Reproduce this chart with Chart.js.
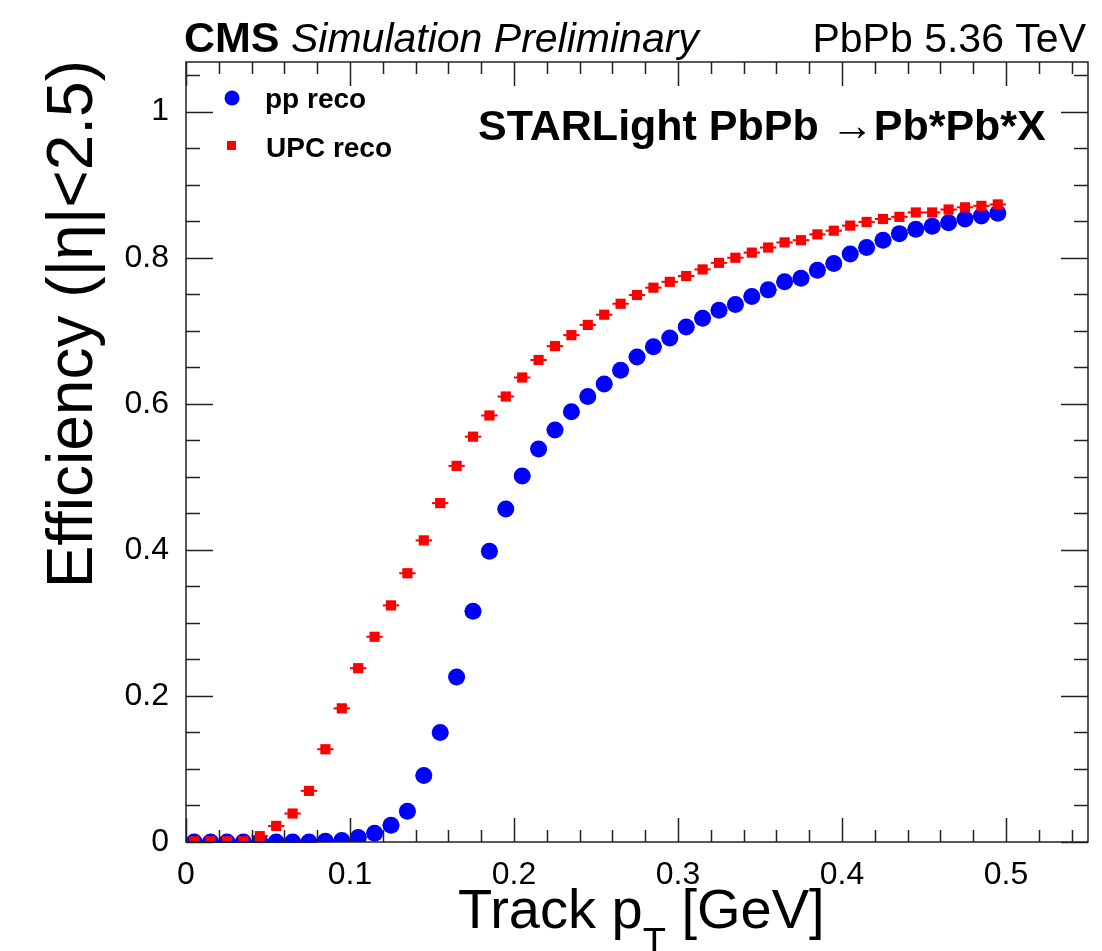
<!DOCTYPE html>
<html>
<head>
<meta charset="utf-8">
<title>Track efficiency vs pT</title>
<script src="https://cdn.jsdelivr.net/npm/chart.js@4.4.1/dist/chart.umd.min.js"></script>
<style>
  html, body { margin: 0; padding: 0; background: #fff; }
  #wrap { width: 1102px; height: 951px; }
</style>
</head>
<body>
<div id="wrap"><canvas id="effChart" width="1102" height="951"></canvas></div>
<script>
// pT bin centres [GeV] (10 MeV bins)
const ptBins = [
    0.005, 0.015, 0.025, 0.035, 0.045, 0.055, 0.065, 0.075, 0.085, 0.095,
    0.105, 0.115, 0.125, 0.135, 0.145, 0.155, 0.165, 0.175, 0.185, 0.195,
    0.205, 0.215, 0.225, 0.235, 0.245, 0.255, 0.265, 0.275, 0.285, 0.295,
    0.305, 0.315, 0.325, 0.335, 0.345, 0.355, 0.365, 0.375, 0.385, 0.395,
    0.405, 0.415, 0.425, 0.435, 0.445, 0.455, 0.465, 0.475, 0.485, 0.495
];
const ptHalfWidth = 0.005;

// efficiency with the pp reconstruction
const ppReco = [
    0.000, 0.000, 0.000, 0.000, 0.000, 0.000, 0.000, 0.000, 0.001, 0.002,
    0.006, 0.012, 0.023, 0.042, 0.091, 0.150, 0.226, 0.316, 0.398, 0.456,
    0.501, 0.538, 0.564, 0.589, 0.610, 0.627, 0.646, 0.664, 0.678, 0.690,
    0.705, 0.717, 0.728, 0.736, 0.747, 0.756, 0.767, 0.772, 0.783, 0.792,
    0.805, 0.814, 0.824, 0.833, 0.839, 0.843, 0.848, 0.853, 0.857, 0.861
];

// efficiency with the UPC reconstruction
const upcReco = [
    0.001, 0.001, 0.001, 0.001, 0.008, 0.022, 0.039, 0.070, 0.127, 0.183,
    0.238, 0.281, 0.324, 0.368, 0.413, 0.464, 0.515, 0.555, 0.584, 0.610,
    0.636, 0.660, 0.679, 0.694, 0.708, 0.722, 0.737, 0.749, 0.759, 0.767,
    0.775, 0.784, 0.793, 0.800, 0.807, 0.814, 0.821, 0.824, 0.832, 0.837,
    0.844, 0.849, 0.853, 0.856, 0.862, 0.862, 0.866, 0.869, 0.871, 0.873
];

const FONT = "'Liberation Sans', Arial, Helvetica, sans-serif";
const BLUE = '#0000ff';
const RED = '#ff0000';

function toPoints(vals) {
    return ptBins.map((x, i) => ({ x: x, y: vals[i] }));
}

// horizontal error bars (bin width) under the markers
const errorBars = {
    id: 'errorBars',
    beforeDatasetsDraw(chart) {
        const { ctx, scales: { x, y } } = chart;
        ctx.save();
        ctx.lineWidth = 2;
        chart.data.datasets.forEach(ds => {
            ctx.strokeStyle = ds.borderColor;
            ds.data.forEach(p => {
                const py = y.getPixelForValue(p.y);
                ctx.beginPath();
                ctx.moveTo(x.getPixelForValue(p.x - ptHalfWidth), py);
                ctx.lineTo(x.getPixelForValue(p.x + ptHalfWidth), py);
                ctx.stroke();
            });
        });
        ctx.restore();
    }
};

// ROOT style frame with inward ticks on all four sides
const rootFrame = {
    id: 'rootFrame',
    afterDraw(chart) {
        const { ctx, chartArea: a, scales: { x, y } } = chart;
        ctx.save();
        ctx.strokeStyle = '#222';
        ctx.lineWidth = 1.5;
        ctx.strokeRect(a.left, a.top, a.right - a.left, a.bottom - a.top);

        ctx.beginPath();
        for (let i = 0; i * 0.02 <= x.max + 1e-9; i++) {
            const px = Math.round(x.getPixelForValue(i * 0.02)) + 0.5;
            const len = i % 5 === 0 ? 24 : 12;
            ctx.moveTo(px, a.bottom); ctx.lineTo(px, a.bottom - len);
            ctx.moveTo(px, a.top); ctx.lineTo(px, a.top + len);
        }
        for (let i = 0; i * 0.05 <= y.max + 1e-9; i++) {
            const py = Math.round(y.getPixelForValue(i * 0.05)) + 0.5;
            const len = i % 4 === 0 ? 27 : 14;
            ctx.moveTo(a.left, py); ctx.lineTo(a.left + len, py);
            ctx.moveTo(a.right, py); ctx.lineTo(a.right - len, py);
        }
        ctx.stroke();
        ctx.restore();
    }
};

// header, legend, process label and axis titles
const labels = {
    id: 'labels',
    afterDraw(chart) {
        const { ctx } = chart;
        const ds = chart.data.datasets;
        ctx.save();
        ctx.fillStyle = '#000';
        ctx.textBaseline = 'alphabetic';

        ctx.textAlign = 'left';
        ctx.font = 'bold 43px ' + FONT;
        ctx.fillText('CMS', 184, 52);
        ctx.font = 'italic 41px ' + FONT;
        ctx.fillText('Simulation Preliminary', 291, 52);
        ctx.textAlign = 'right';
        ctx.font = '41px ' + FONT;
        ctx.fillText('PbPb 5.36 TeV', 1086, 52);

        // legend
        ctx.textAlign = 'left';
        ctx.font = 'bold 28px ' + FONT;
        ctx.fillStyle = ds[1].backgroundColor;
        ctx.beginPath();
        ctx.arc(232, 98, 7.5, 0, Math.PI * 2);
        ctx.fill();
        ctx.fillStyle = ds[0].backgroundColor;
        ctx.fillRect(227, 141, 9, 9);
        ctx.fillStyle = '#000';
        ctx.fillText(ds[1].label, 265, 108);
        ctx.fillText(ds[0].label, 266, 157);

        ctx.font = 'bold 43px ' + FONT;
        ctx.fillText('STARLight PbPb \u2192Pb*Pb*X', 478, 140);

        // x title with subscript
        ctx.font = '56px ' + FONT;
        let tx = 458;
        ctx.fillText('Track p', tx, 928);
        tx += ctx.measureText('Track p').width;
        ctx.font = '38px ' + FONT;
        ctx.fillText('T', tx, 955);
        tx += ctx.measureText('T').width;
        ctx.font = '56px ' + FONT;
        ctx.fillText(' [GeV]', tx, 928);

        // y title, rotated, ending at the top of the frame
        ctx.translate(92, 60);
        ctx.rotate(-Math.PI / 2);
        ctx.textAlign = 'right';
        ctx.font = '64px ' + FONT;
        ctx.fillText('Efficiency (|\u03b7|<2.5)', 0, 0);
        ctx.restore();
    }
};

const ctx = document.getElementById('effChart').getContext('2d');
const chart = new Chart(ctx, {
    type: 'scatter',
    data: {
        datasets: [
            {
                label: 'UPC reco',
                data: toPoints(upcReco),
                borderColor: RED,
                backgroundColor: RED,
                pointStyle: 'rect',
                pointRadius: 7.2,
                pointBorderWidth: 0,
                order: 0
            },
            {
                label: 'pp reco',
                data: toPoints(ppReco),
                borderColor: BLUE,
                backgroundColor: BLUE,
                pointStyle: 'circle',
                pointRadius: 8.5,
                pointBorderWidth: 0,
                order: 1
            }
        ]
    },
    options: {
        responsive: false,
        devicePixelRatio: 1,
        animation: false,
        layout: { padding: { left: 0, top: 62, right: 14, bottom: 0 } },
        plugins: {
            legend: { display: false },
            tooltip: { enabled: false }
        },
        scales: {
            x: {
                type: 'linear',
                min: 0,
                max: 0.55,
                grid: { display: false },
                border: { display: false },
                ticks: {
                    stepSize: 0.1,
                    includeBounds: false,
                    maxRotation: 0,
                    padding: 6,
                    color: '#000',
                    font: { family: FONT, size: 32 },
                    callback: (v) => String(Number(v.toFixed(2)))
                },
                afterFit: (scale) => { scale.height = 109; }
            },
            y: {
                type: 'linear',
                min: 0,
                max: 1.068,
                grid: { display: false },
                border: { display: false },
                ticks: {
                    stepSize: 0.2,
                    includeBounds: false,
                    padding: 9,
                    color: '#000',
                    font: { family: FONT, size: 32 },
                    callback: (v) => String(Number(v.toFixed(2)))
                },
                afterFit: (scale) => { scale.width = 186; }
            }
        }
    },
    plugins: [errorBars, rootFrame, labels]
});
</script>
</body>
</html>
